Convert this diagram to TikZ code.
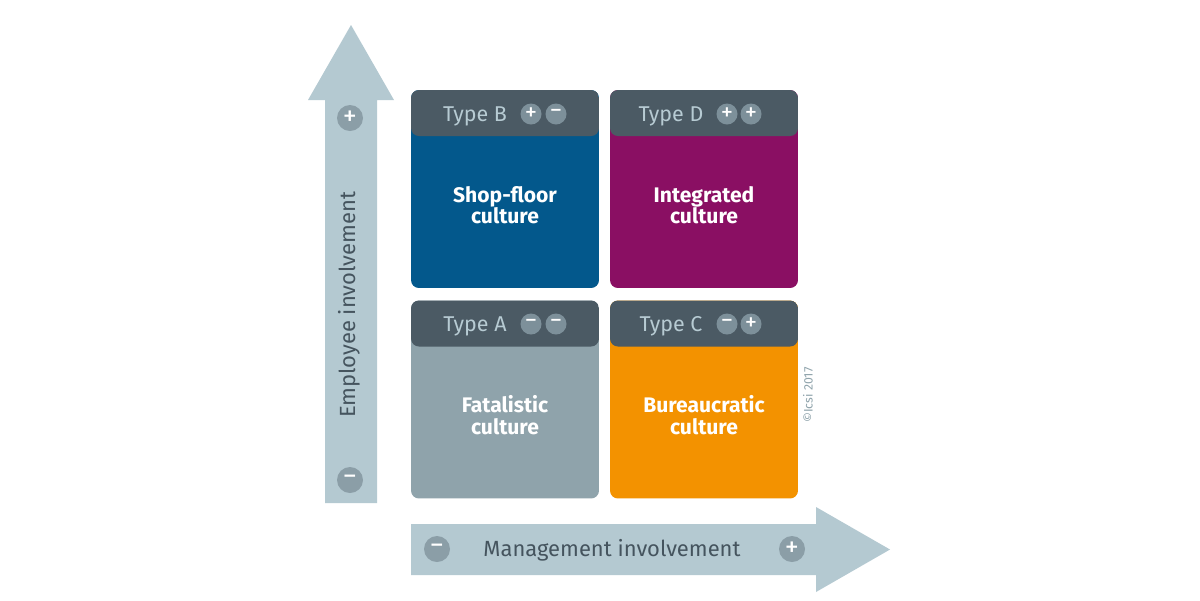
\documentclass[tikz,border=0pt]{standalone}
\usepackage{fontspec}
\setmainfont{Fira Sans}
\definecolor{headgray}{HTML}{4B5A64}
\definecolor{headtext}{HTML}{B7CBD3}
\definecolor{signgray}{HTML}{7D909A}
\definecolor{axisfill}{HTML}{B4C9D1}
\definecolor{axissign}{HTML}{8B9EA7}
\definecolor{axistext}{HTML}{45545E}
\definecolor{shopblue}{HTML}{03588C}
\definecolor{integpurple}{HTML}{8A0F63}
\definecolor{fatalgray}{HTML}{8FA3AB}
\definecolor{bureauorange}{HTML}{F39200}
\tikzstyle{cell} = [rectangle, rounded corners=4.5pt, minimum width=3.76cm, minimum height=3.96cm, inner sep=0pt,
  path picture={\fill[headgray] (path picture bounding box.north west) rectangle ([yshift=-0.92cm]path picture bounding box.north east);}]
\tikzstyle{typetext} = [anchor=base, text=headtext, font=\fontsize{12.2}{12}\selectfont, inner sep=0pt]
\tikzstyle{celltext} = [align=center, text=white, font=\fontsize{12}{12.3}\selectfont\bfseries, inner sep=0pt]
\tikzstyle{sign} = [circle, fill=signgray, text=white, minimum size=0.42cm, inner sep=0pt, font=\fontsize{14}{14}\selectfont]
\tikzstyle{axissign} = [circle, fill=axissign, text=white, minimum size=0.52cm, inner sep=0pt, font=\fontsize{16}{16}\selectfont]
\tikzstyle{axislabel} = [anchor=base, text=axistext, font=\fontsize{12.5}{12.5}\selectfont, inner sep=0pt]

\begin{document}
\begin{tikzpicture}[x=0.02cm, y=-0.02cm]
        \useasboundingbox[fill=white] (0,0) rectangle (1200,600);
        % axes
        \fill[axisfill] (325,503) -- (325,100) -- (308,100) -- (351,25) -- (394,100) -- (377,100) -- (377,503) -- cycle;
        \fill[axisfill] (411,524) -- (816,524) -- (816,507) -- (890,549.5) -- (816,592) -- (816,575) -- (411,575) -- cycle;
        \node[axislabel, rotate=90] (ylab) at (355,305) {Employee involvement};
        \node[axislabel] (xlab) at (612,556.7) {Management involvement};
        \node[axissign] (yplus) at (350,118) {+};
        \node[axissign] (yminus) at (350,480) {−};
        \node[axissign] (xminus) at (437,549) {−};
        \node[axissign] (xplus) at (792,549) {+};
        % the four cultures
        \node[cell, fill=shopblue] (B) at (505,189) {};
        \node[cell, fill=integpurple] (D) at (704,189) {};
        \node[cell, fill=fatalgray] (A) at (505,399.5) {};
        \node[cell, fill=bureauorange] (C) at (704,399.5) {};
        \node[typetext] (Bt) at (475,121) {Type B};
        \node[typetext] (Dt) at (671,121) {Type D};
        \node[typetext] (At) at (475,331) {Type A};
        \node[typetext] (Ct) at (671,331) {Type C};
        \node[sign] (B1) at (531,114) {+};
        \node[sign] (B2) at (556,114) {−};
        \node[sign] (D1) at (727,114) {+};
        \node[sign] (D2) at (751,114) {+};
        \node[sign] (A1) at (531,324) {−};
        \node[sign] (A2) at (556,324) {−};
        \node[sign] (C1) at (727,324) {−};
        \node[sign] (C2) at (751,324) {+};
        \node[celltext] (Bx) at (505,205) {Shop-floor\\culture};
        \node[celltext] (Dx) at (704,205) {Integrated\\culture};
        \node[celltext] (Ax) at (505,415) {Fatalistic\\culture};
        \node[celltext] (Cx) at (704,415) {Bureaucratic\\culture};
        \node[rotate=90, text=fatalgray, font=\fontsize{7}{7}\selectfont, inner sep=0pt] (copy) at (808,395) {©Icsi 2017};
    \end{tikzpicture}
\end{document}
